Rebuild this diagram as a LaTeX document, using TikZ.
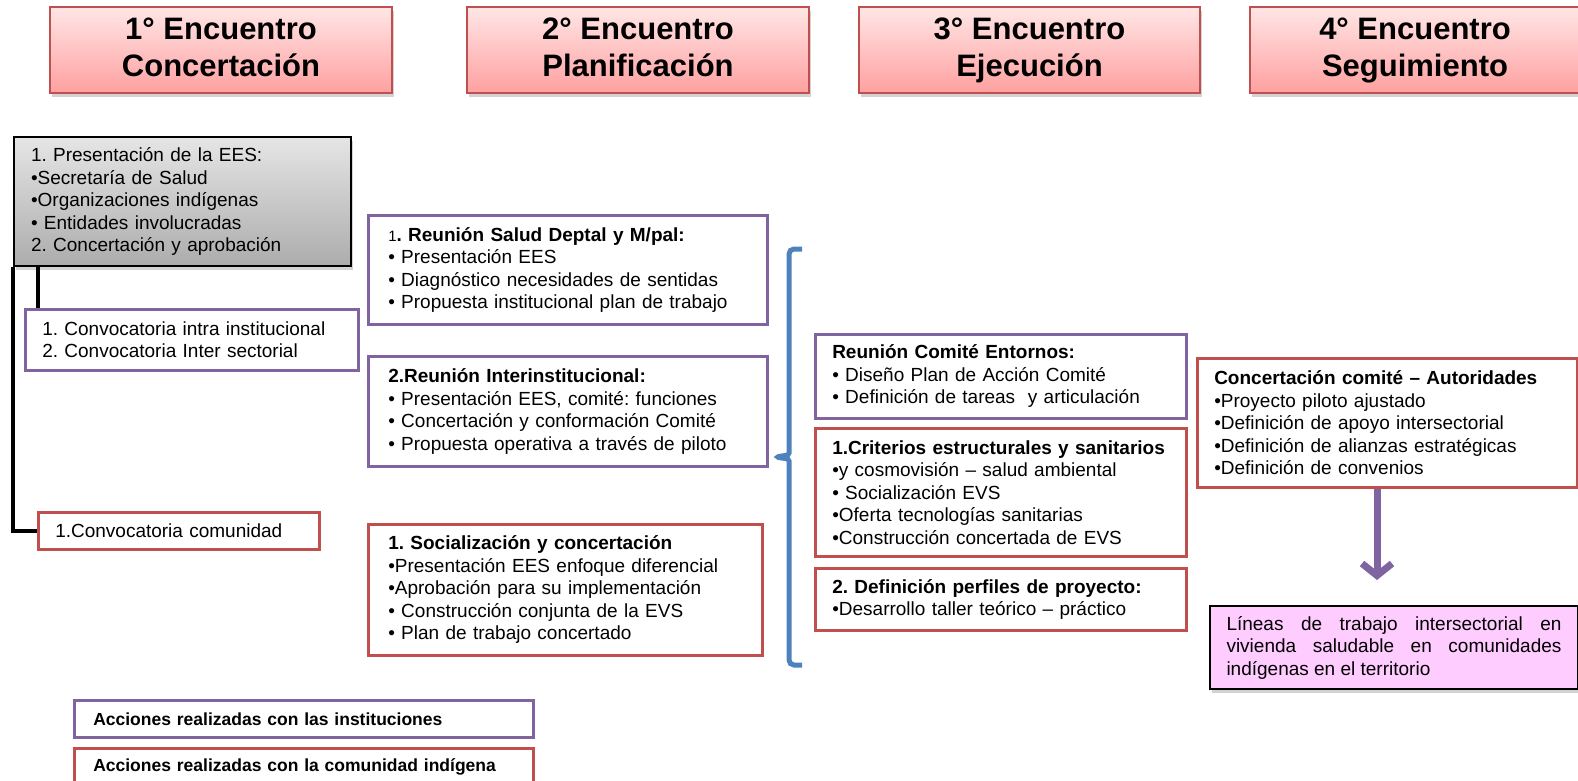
\documentclass[tikz,border=0pt]{standalone}
\usepackage{fontspec}
\setmainfont{Liberation Sans}
\usetikzlibrary{shadows,arrows.meta}
\frenchspacing

\definecolor{morado}{HTML}{8064A2}
\definecolor{rojo}{HTML}{C0504D}
\definecolor{azul}{HTML}{4F81BD}
\definecolor{rosa}{HTML}{FFCCFF}
\definecolor{rosaclaro}{HTML}{FFE6E6}
\definecolor{rosaoscuro}{HTML}{FFA0A0}

\tikzset{
	encuentro/.style={draw=rojo, line width=2pt, top color=rosaclaro, bottom color=rosaoscuro,
		minimum height=86pt, align=center, font=\bfseries\fontsize{31}{37}\selectfont,
		execute at end node={\vphantom{Ój}},
		drop shadow={shadow xshift=2pt, shadow yshift=-4pt, opacity=0.35}},
	caja/.style={draw, line width=2.5pt, fill=white, anchor=north west, align=left,
		inner xsep=17pt, inner ysep=0pt, font=\fontsize{19}{22.5}\selectfont},
	inst/.style={caja, draw=morado},
	comu/.style={caja, draw=rojo},
	leyenda/.style={caja, font=\bfseries\fontsize{17.5}{21}\selectfont, inner xsep=19pt, text width=421pt, minimum height=37pt},
	flecha/.style={draw=morado, line width=7pt, -{Straight Barb[length=12pt,width=30pt]}}
}

\begin{document}
\begin{tikzpicture}[x=1pt,y=-1pt]
	\useasboundingbox (0,0) rectangle (1578,780);
	% encabezados
	\node[encuentro, minimum width=342pt] (enc1) at (221,50)    {1° Encuentro\\Concertación};
	\node[encuentro, minimum width=342pt] (enc2) at (638,50)    {2° Encuentro\\Planificación};
	\node[encuentro, minimum width=341pt] (enc3) at (1029.5,50) {3° Encuentro\\Ejecución};
	\node[encuentro, minimum width=330pt] (enc4) at (1415,50)   {4° Encuentro\\Seguimiento};

	% primer encuentro
	\node[caja, draw=black, line width=2pt, fill=none, top color=gray!20, bottom color=gray!65, text width=303pt, minimum height=129pt,
		drop shadow={shadow xshift=2pt, shadow yshift=-4pt, opacity=0.35}] (pres) at (13,136)
		{1. Presentación de la EES:\\•Secretaría de Salud\\•Organizaciones indígenas\\• Entidades involucradas\\2. Concertación y aprobación};
	\node[inst, text width=299pt, minimum height=61pt] (conv) at (24,308)
		{1. Convocatoria intra institucional\\2. Convocatoria Inter sectorial};
	\node[comu, text width=247pt, minimum height=37pt] (comun) at (37,511) {1.Convocatoria comunidad};
	\draw[line width=3.5pt] (pres.south west) |- (comun.west);
	\draw[line width=3.5pt] ([xshift=25pt]pres.south west) -- ([xshift=14pt]conv.north west);

	% segundo encuentro
	\node[inst, inner xsep=20pt, text width=359pt, minimum height=109pt] (salud) at (367,214)
		{{\fontsize{15}{22.5}\selectfont 1}\textbf{. Reunión Salud Deptal y M/pal:}\\• Presentación EES\\• Diagnóstico necesidades de sentidas\\• Propuesta institucional plan de trabajo};
	\node[inst, inner xsep=20pt, text width=359pt, minimum height=110pt] (inter) at (367,355)
		{\textbf{2.Reunión Interinstitucional:}\\• Presentación EES, comité: funciones\\• Concertación y conformación Comité\\• Propuesta operativa a través de piloto};
	\node[comu, inner xsep=20pt, text width=354pt, minimum height=131pt] (social) at (367,523)
		{\textbf{1. Socialización y concertación}\\•Presentación EES enfoque diferencial\\•Aprobación para su implementación\\• Construcción conjunta de la EVS\\• Plan de trabajo concertado};

	\draw[azul, line width=5pt, rounded corners=5pt] (802,249) -- (789,249) -- (789,448)
		.. controls (789,455) .. (775,457) .. controls (789,459) .. (789,466) -- (789,665) -- (802,665);

	% tercer encuentro
	\node[inst, text width=337pt, minimum height=84pt] (comite) at (814,333)
		{\textbf{Reunión Comité Entornos:}\\• Diseño Plan de Acción Comité\\• Definición de tareas\ \ y articulación};
	\node[comu, text width=337pt, minimum height=128pt] (criter) at (814,427)
		{\textbf{1.Criterios estructurales y sanitarios}\\•y cosmovisión – salud ambiental\\• Socialización EVS\\•Oferta tecnologías sanitarias\\•Construcción concertada de EVS};
	\node[comu, text width=337pt, minimum height=62pt] (perfil) at (814,567)
		{\textbf{2. Definición perfiles de proyecto:}\\•Desarrollo taller teórico – práctico};

	% cuarto encuentro
	\node[comu, text width=346pt, minimum height=129pt] (concert) at (1196,357)
		{\textbf{Concertación comité – Autoridades}\\•Proyecto piloto ajustado\\•Definición de apoyo intersectorial\\•Definición de alianzas estratégicas\\•Definición de convenios};
	\node[caja, draw=black, line width=2pt, fill=rosa, align=justify, inner xsep=16.5pt, text width=335pt, minimum height=83pt,
		drop shadow={shadow xshift=2pt, shadow yshift=-4pt, opacity=0.35}] (lineas) at (1209,605)
		{Líneas de trabajo intersectorial en vivienda saludable en comunidades indígenas en el territorio};
	\coordinate (punta) at (1377,580);
	\draw[flecha] (concert.south -| punta) -- (punta);

	% leyenda
	\node[leyenda, draw=morado] (leyinst) at (73,699) {Acciones realizadas con las instituciones};
	\node[leyenda, draw=rojo]   (leycom)  at (73,747) {Acciones realizadas con la comunidad indígena};
\end{tikzpicture}
\end{document}
